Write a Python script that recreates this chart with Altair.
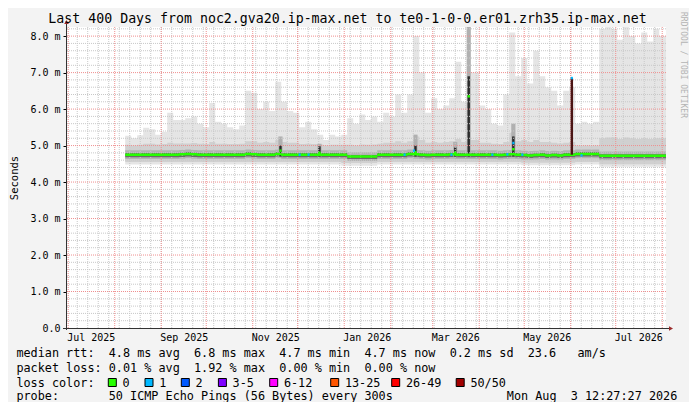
import altair as alt
import pandas as pd

mono = "DejaVu Sans Mono"

# graph window: last 400 days up to the probe time stamp
window = ["2025-06-29 12:27:27", "2026-08-03 12:27:27"]

# smoke and median rtt (ms), 4-day bins from 2025-08-08
bin_start = "2025-08-08"
bin_days = 4
smoke_hi = [
    5.27, 5.20, 5.28, 5.49, 5.45, 5.30, 5.38, 5.90, 5.70, 5.70,
    5.75, 5.80, 5.60, 5.50, 6.17, 5.65, 5.60, 5.50, 5.45, 5.55,
    6.50, 6.45, 6.00, 6.20, 5.95, 6.75, 6.20, 5.95, 5.90, 5.50,
    5.65, 5.45, 5.30, 5.15, 5.30, 5.25, 5.30, 5.75, 5.60, 5.85,
    5.70, 5.80, 5.65, 5.90, 5.80, 6.40, 5.90, 6.40, 8.00, 7.00,
    5.90, 6.30, 6.00, 6.10, 6.30, 7.30, 6.20, 7.00, 7.00, 6.10,
    6.00, 5.60, 5.55, 6.40, 8.10, 6.90, 7.40, 6.70, 7.60, 6.90,
    6.60, 6.50, 6.10, 6.50, 6.60, 5.60, 5.65, 5.60, 5.65, 8.20,
    8.25, 8.20, 7.90, 8.25, 8.00, 7.80, 8.10, 7.85, 8.20, 8.00,
]
smoke_mid = [
    5.02, 5.00, 5.02, 5.05, 5.05, 5.03, 5.04, 5.08, 5.06, 5.06,
    5.06, 5.07, 5.05, 5.04, 5.10, 5.05, 5.05, 5.04, 5.04, 5.05,
    5.12, 5.12, 5.08, 5.10, 5.08, 5.15, 5.10, 5.08, 5.08, 5.04,
    5.05, 5.04, 5.03, 5.00, 5.02, 5.02, 5.02, 5.02, 5.00, 5.03,
    5.02, 5.03, 5.05, 5.08, 5.08, 5.12, 5.08, 5.12, 5.25, 5.15,
    5.08, 5.10, 5.08, 5.10, 5.12, 5.18, 5.10, 5.15, 5.15, 5.08,
    5.08, 5.05, 5.04, 5.10, 5.35, 5.12, 5.15, 5.10, 5.15, 5.10,
    5.10, 5.08, 5.06, 5.08, 5.10, 5.00, 5.00, 5.00, 5.00, 5.20,
    5.22, 5.22, 5.18, 5.22, 5.20, 5.18, 5.20, 5.18, 5.20, 5.20,
]
smoke_lo = [
    4.48, 4.48, 4.48, 4.48, 4.48, 4.48, 4.48, 4.48, 4.48, 4.48,
    4.48, 4.48, 4.48, 4.48, 4.48, 4.48, 4.48, 4.48, 4.48, 4.48,
    4.48, 4.48, 4.48, 4.48, 4.48, 4.48, 4.48, 4.48, 4.48, 4.48,
    4.48, 4.48, 4.48, 4.48, 4.48, 4.48, 4.45, 4.45, 4.45, 4.45,
    4.45, 4.45, 4.48, 4.48, 4.48, 4.48, 4.48, 4.48, 4.48, 4.48,
    4.48, 4.48, 4.48, 4.48, 4.48, 4.48, 4.48, 4.48, 4.48, 4.48,
    4.48, 4.48, 4.48, 4.48, 4.48, 4.48, 4.46, 4.46, 4.46, 4.46,
    4.46, 4.46, 4.46, 4.46, 4.46, 4.48, 4.48, 4.48, 4.48, 4.42,
    4.42, 4.42, 4.42, 4.42, 4.42, 4.42, 4.42, 4.42, 4.42, 4.42,
]
median_rtt = [
    4.75, 4.75, 4.75, 4.75, 4.75, 4.75, 4.75, 4.75, 4.75, 4.76,
    4.77, 4.76, 4.75, 4.75, 4.75, 4.75, 4.75, 4.75, 4.75, 4.75,
    4.77, 4.76, 4.75, 4.75, 4.75, 4.77, 4.75, 4.75, 4.75, 4.75,
    4.75, 4.75, 4.75, 4.75, 4.75, 4.75, 4.75, 4.70, 4.70, 4.70,
    4.70, 4.70, 4.75, 4.75, 4.75, 4.75, 4.75, 4.77, 4.76, 4.75,
    4.74, 4.75, 4.75, 4.75, 4.76, 4.75, 4.75, 4.75, 4.75, 4.75,
    4.75, 4.75, 4.74, 4.75, 4.76, 4.75, 4.74, 4.73, 4.74, 4.75,
    4.73, 4.74, 4.73, 4.75, 4.75, 4.77, 4.77, 4.77, 4.77, 4.72,
    4.72, 4.72, 4.72, 4.72, 4.72, 4.72, 4.72, 4.72, 4.72, 4.72,
]

# short latency spikes
spike_time = ["2025-11-19 12:00", "2025-12-15 12:00", "2026-02-17 12:00",
              "2026-03-16 00:00", "2026-03-25 00:00", "2026-04-23 18:00"]
spike_dark = [5.00, 4.98, 5.00, 4.95, 6.90, 5.25]
spike_fade = [5.25, 5.05, 5.30, 5.10, 8.25, 5.60]
spike_median = [4.86, 4.80, 4.82, 4.80, 6.35, 4.90]

# median samples with 1 lost ping (blue)
loss_time = ["2025-12-02 06:00", "2025-12-08 06:00", "2026-02-10 06:00",
             "2026-02-16 12:00", "2026-03-13 12:00", "2026-04-09 18:00",
             "2026-04-19 18:00", "2026-04-23 18:00", "2026-04-29 18:00",
             "2026-06-01 18:00", "2026-06-08 06:00"]
loss_rtt = [4.75, 4.75, 4.75, 4.86, 4.75, 4.75, 4.76, 5.07, 4.75, 6.85, 4.73]

# 50/50 loss burst
burst_time = "2026-06-01 18:00"
burst_rtt = [4.75, 6.85]

x_labels = ["2025-07-16", "2025-09-16", "2025-11-16", "2026-01-16",
            "2026-03-16", "2026-05-16", "2026-07-16"]
y_ticks = [0, 1, 2, 3, 4, 5, 6, 7, 8]

title = "Last 400 Days from noc2.gva20.ip-max.net to te0-1-0-0.er01.zrh35.ip-max.net"
rtt_line = "median rtt:  4.8 ms avg  6.8 ms max  4.7 ms min  4.7 ms now  0.2 ms sd  23.6   am/s"
loss_line = "packet loss: 0.01 % avg  1.92 % max  0.00 % min  0.00 % now"
loss_names = ["0", "1", "2", "3-5", "6-12", "13-25", "26-49", "50/50"]
loss_colors = ["#26ff00", "#00b8ff", "#0059ff", "#7e00ff", "#ff00ff", "#ff5500", "#ff0000", "#a10000"]
probe_line = "probe:       50 ICMP Echo Pings (56 Bytes) every 300s"
stamp = "Mon Aug  3 12:27:27 2026"
watermark = "RRDTOOL / TOBI OETIKER"


def ms(s):
    return int(pd.Timestamp(s, tz="UTC").timestamp() * 1000)


DAY = 86400000
t0, t1 = ms(window[0]), ms(window[1])

# bins table (extra closing row so the step areas reach the right edge)
starts = [ms(bin_start) + i * bin_days * DAY for i in range(len(smoke_hi))] + [t1]
bins = pd.DataFrame({
    "t": starts,
    "lo": smoke_lo + smoke_lo[-1:],
    "mid": smoke_mid + smoke_mid[-1:],
    "hi": smoke_hi + smoke_hi[-1:],
    "med": median_rtt + median_rtt[-1:],
})
bins["b2lo"] = bins.lo + 0.07
bins["b3lo"] = bins.med - 0.12
bins["b3hi"] = bins.med + 0.12
bins["b4lo"] = bins.med - 0.07
bins["b4hi"] = bins.med + 0.045
bins["glo"] = bins.med - 0.034
bins["ghi"] = bins.med + 0.034

spk = pd.DataFrame({"c": [ms(s) for s in spike_time], "dark": spike_dark,
                    "fade": spike_fade, "med": spike_median})
spk["t"] = spk.c - 0.8 * DAY
spk["t2"] = spk.c + 0.8 * DAY
spk["ft"] = spk.c - 1.4 * DAY
spk["ft2"] = spk.c + 1.4 * DAY
spk["base"] = 4.70
spk["glo"] = spk.med - 0.034
spk["ghi"] = spk.med + 0.034

lossdf = pd.DataFrame({"c": [ms(s) for s in loss_time], "v": loss_rtt})
lossdf["t"] = lossdf.c - 0.7 * DAY
lossdf["t2"] = lossdf.c + 0.7 * DAY
lossdf["lo"] = lossdf.v - 0.034
lossdf["hi"] = lossdf.v + 0.034

burst = pd.DataFrame({"t": [ms(burst_time) - 0.8 * DAY], "t2": [ms(burst_time) + 0.8 * DAY],
                      "lo": [burst_rtt[0]], "hi": [burst_rtt[1]]})

weeks = pd.DataFrame({"t": [ms("2025-06-30") + i * 7 * DAY for i in range(57)]})
months = pd.DataFrame({"t": [ms(d) for d in pd.date_range("2025-07-01", "2026-08-01", freq="MS")]})
hminor = pd.DataFrame({"v": [k / 5 for k in range(1, 42) if k % 5]})
hmajor = pd.DataFrame({"v": [1, 2, 3, 4, 5, 6, 7, 8]})

xs = alt.Scale(type="utc", domain=[t0, t1])
ys = alt.Scale(domain=[0, 8.25], nice=False, zero=False)
xax = alt.Axis(values=[ms(d) for d in x_labels], labelExpr="utcFormat(datum.value, '%b %Y')",
               ticks=False, domain=False, grid=False, labelFont=mono, labelFontSize=10,
               labelColor="#000", labelPadding=4, labelFlush=False, labelOverlap=False, title=None)
yax = alt.Axis(values=y_ticks, labelExpr="datum.value == 0 ? '0.0' : format(datum.value, '.1f') + ' m'",
               tickSize=3, tickColor="#000", domain=False, grid=False, labelFont=mono,
               labelFontSize=10, labelColor="#000", labelPadding=3, title=None)


def X(f="t"):
    return alt.X(f"{f}:T", scale=xs, axis=xax)


def Y(f):
    return alt.Y(f"{f}:Q", scale=ys, axis=yax)


def band(lo, hi, color):
    return alt.Chart(bins).mark_area(interpolate="step-after", color=color, clip=True).encode(
        X(), Y(lo), alt.Y2(f"{hi}:Q"))


layers = [
    band("lo", "hi", "#e5e5e5"),
    band("b2lo", "mid", "#d0d0d0"),
    band("b3lo", "b3hi", "#b2b2b2"),
    band("b4lo", "b4hi", "#6a6a6a"),
    alt.Chart(spk).mark_rect(color="#b0b0b0", clip=True).encode(X("ft"), alt.X2("ft2:T"), Y("base"), alt.Y2("fade:Q")),
    alt.Chart(spk).mark_rect(color="#2a2a2a", clip=True).encode(X("t"), alt.X2("t2:T"), Y("base"), alt.Y2("dark:Q")),
    alt.Chart(weeks).mark_rule(color="#c8c8c8", strokeDash=[1, 1], strokeWidth=1).encode(X()),
    alt.Chart(hminor).mark_rule(color="#c8c8c8", strokeDash=[1, 1], strokeWidth=1).encode(Y("v")),
    alt.Chart(months).mark_rule(color="#ef8f8f", strokeDash=[1, 1], strokeWidth=1).encode(X()),
    alt.Chart(hmajor).mark_rule(color="#ef8f8f", strokeDash=[1, 1], strokeWidth=1).encode(Y("v")),
    band("glo", "ghi", loss_colors[0]),
    alt.Chart(spk).mark_rect(color=loss_colors[0]).encode(X("t"), alt.X2("t2:T"), Y("glo"), alt.Y2("ghi:Q")),
    alt.Chart(burst).mark_rect(color="#4a1414").encode(X("t"), alt.X2("t2:T"), Y("lo"), alt.Y2("hi:Q")),
    alt.Chart(lossdf).mark_rect(color=loss_colors[1]).encode(X("t"), alt.X2("t2:T"), Y("lo"), alt.Y2("hi:Q")),
]

one = pd.DataFrame({"k": [0]})
ink = "#000"

# axis lines with arrow heads
layers += [
    alt.Chart(one).mark_rule(color="#333", strokeWidth=1).encode(
        x=alt.value(0.5), y=alt.value(-4), y2=alt.value(303)),
    alt.Chart(one).mark_rule(color="#333", strokeWidth=1).encode(
        x=alt.value(-3), x2=alt.value(604), y=alt.value(301.5)),
    alt.Chart(one).mark_point(shape="triangle-right", filled=True, size=22, color="#9b2c2c", opacity=1).encode(
        x=alt.value(605), y=alt.value(301.5)),
    alt.Chart(one).mark_point(shape="triangle-up", filled=True, size=22, color="#9b2c2c", opacity=1).encode(
        x=alt.value(0.5), y=alt.value(-5)),
]


def label(s, x, y, size=11.8, align="left", **kw):
    # keep runs of spaces (svg collapses ordinary ones)
    return alt.Chart(one).mark_text(font=mono, fontSize=size, align=align, baseline="middle",
                                    color=kw.pop("color", ink), **kw).encode(
        x=alt.value(x), y=alt.value(y), text=alt.value(s.replace(" ", "\u00a0")))


layers += [
    label(title, 281.5, -8, size=13.25, align="center"),
    label("Seconds", -51.5, 151, size=10.5, align="center", angle=270),
    label(watermark, 616.5, 38, size=8, align="center", angle=90, color="#b4b4b4"),
    label(rtt_line, -49.6, 325.5),
    label(loss_line, -49.6, 340.5),
    label("loss color:", -49.6, 355.5),
    label(probe_line, -49.6, 369),
    label(stamp, 611.3, 369, align="right"),
]

# loss colour legend: swatch and label positions
box_x = [42.3, 79, 115.3, 152.4, 203.7, 264.7, 325.7, 390.2]
for bx, name, col in zip(box_x, loss_names, loss_colors):
    layers.append(alt.Chart(one).mark_rect(fill=col, stroke="#000", strokeWidth=1).encode(
        x=alt.value(bx), x2=alt.value(bx + 8), y=alt.value(351.5), y2=alt.value(359.5)))
    layers.append(label(name, bx + 14.2, 355.5))

chart = (
    alt.layer(*layers)
    .properties(width=600, height=301, autosize="none", background="#f3f3f3",
                padding={"left": 58, "top": 19, "right": 23, "bottom": 74})
    .configure_view(stroke=None, fill="white")
)

chart.save("out.html", embed_options={"renderer": "svg", "actions": False})
